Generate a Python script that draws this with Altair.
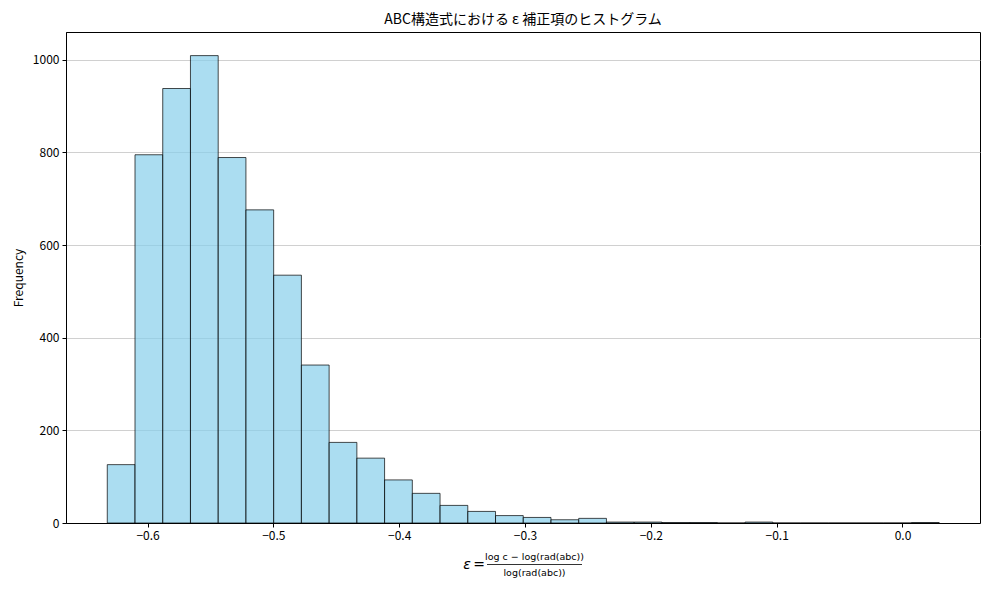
import altair as alt
import pandas as pd

# Histogram values (30 bins)
bin_min = -0.632
bin_max = 0.0292
n_bins = 30
counts = [126, 795, 938, 1009, 789, 676, 535, 341, 174, 140,
          93, 64, 38, 25, 16, 12, 7, 10, 2, 2,
          1, 1, 0, 2, 0, 0, 0, 0, 0, 1]
x_ticks = [-0.6, -0.5, -0.4, -0.3, -0.2, -0.1, 0.0]
y_ticks = [0, 200, 400, 600, 800, 1000]

title_text = "ABC構造式における ε 補正項のヒストグラム"
numerator_text = "log c − log(rad(abc))"
denominator_text = "log(rad(abc))"

w = (bin_max - bin_min) / n_bins
df = pd.DataFrame({
    "start": [bin_min + i * w for i in range(n_bins)],
    "end": [bin_min + (i + 1) * w for i in range(n_bins)],
    "count": counts,
})

FONT = "Noto Sans CJK JP"
W, H = 914, 491

bars = alt.Chart(df).mark_rect(
    fill="#87CEEB", fillOpacity=0.7, stroke="black", strokeOpacity=0.7, strokeWidth=1
).encode(
    x=alt.X("start:Q", title="",
            scale=alt.Scale(domain=[-0.6648, 0.0616], nice=False, zero=False),
            axis=alt.Axis(values=x_ticks, format=".1f", grid=False)),
    x2="end:Q",
    y=alt.Y("count:Q", title="Frequency",
            scale=alt.Scale(domain=[0, 1060], nice=False),
            axis=alt.Axis(values=y_ticks, format="d", grid=True)),
    y2=alt.datum(0),
)

def label(text, x, y, size, style="normal", font="DejaVu Sans"):
    return alt.Chart(pd.DataFrame({"t": [text]})).mark_text(
        fontSize=size, font=font, fontStyle=style, align="center", baseline="middle", color="black"
    ).encode(x=alt.value(x), y=alt.value(y), text="t:N")

eps = label("ε", 401.0, 533, 14, style="italic")
eq = label("=", 413.0, 533, 14)
num = label(numerator_text, 468.5, 524.5, 9.5)
den = label(denominator_text, 468.5, 540.5, 9.5)
frac = alt.Chart(pd.DataFrame({"a": [0]})).mark_rule(color="black", strokeWidth=0.8).encode(
    x=alt.value(421), x2=alt.value(516), y=alt.value(532.5)
)

chart = alt.layer(bars, eps, eq, num, den, frac).properties(
    width=W, height=H,
    title=alt.TitleParams(title_text, font=FONT, fontSize=14, fontWeight="normal",
                          anchor="middle", offset=5, color="black"),
    autosize=alt.AutoSizeParams(type="none"),
    padding={"left": 58, "top": 24, "right": 2, "bottom": 60},
).configure_view(
    stroke="black", strokeWidth=1
).configure_axis(
    labelFont=FONT, labelFontSize=12, labelColor="black",
    titleFont=FONT, titleFontSize=12, titleFontWeight="normal", titleColor="black",
    domainColor="black", domainWidth=1, tickColor="black", tickSize=4, tickWidth=1,
    labelPadding=3, gridColor="#c4c4c4", gridWidth=0.8,
).configure_axisY(
    titlePadding=7
)

chart.save("out.html", embed_options={"renderer": "svg", "actions": False})
